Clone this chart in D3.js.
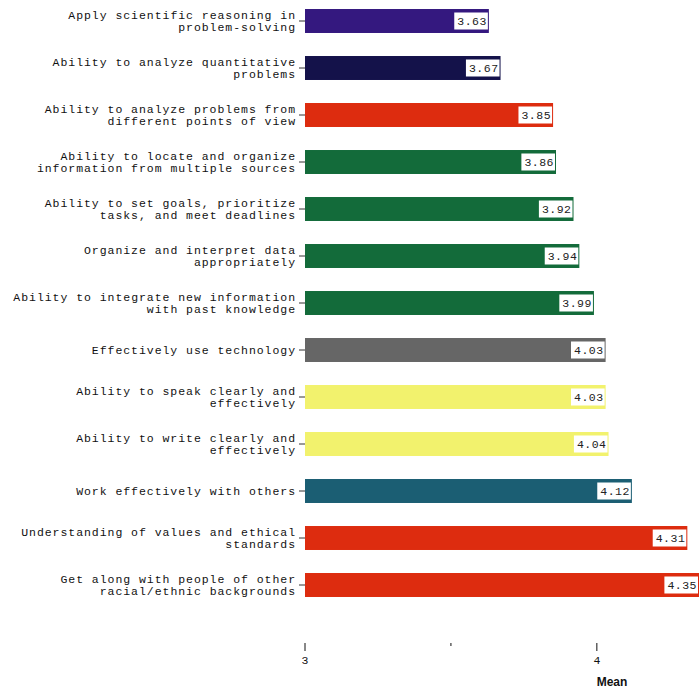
<!DOCTYPE html>
<html>
<head>
<meta charset="utf-8">
<script src="https://cdn.jsdelivr.net/npm/d3@7"></script>
<style>
  body { margin: 0; background: #fff; }
  svg { display: block; }
</style>
</head>
<body>
<svg id="chart" width="700" height="689"></svg>
<script>
const categories = [
  "Apply scientific reasoning in problem-solving",
  "Ability to analyze quantitative problems",
  "Ability to analyze problems from different points of view",
  "Ability to locate and organize information from multiple sources",
  "Ability to set goals, prioritize tasks, and meet deadlines",
  "Organize and interpret data appropriately",
  "Ability to integrate new information with past knowledge",
  "Effectively use technology",
  "Ability to speak clearly and effectively",
  "Ability to write clearly and effectively",
  "Work effectively with others",
  "Understanding of values and ethical standards",
  "Get along with people of other racial/ethnic backgrounds"
];
const values = [3.63, 3.67, 3.85, 3.86, 3.92, 3.94, 3.99, 4.03, 4.03, 4.04, 4.12, 4.31, 4.35];
const groups = ["science", "quant", "perspective", "info", "info", "info", "info",
                "tech", "communication", "communication", "teamwork", "perspective", "perspective"];
const groupNames = ["science", "quant", "perspective", "info", "tech", "communication", "teamwork"];
const groupColors = ["#34187f", "#14124a", "#dd2c0f", "#136b3a", "#666666", "#f2f26d", "#1b5e73"];
const xTicks = [3, 4];
const xMinorTicks = [3.5];
const xTitle = "Mean";

const svg = d3.select("#chart");
const mono = "'Courier New', 'Liberation Mono', monospace";

const x = d3.scaleLinear().domain([3, 4.35]).range([305, 699]);
const y = d3.scaleBand().domain(categories).range([-2.5, 608.5])
  .paddingInner(0.49).paddingOuter(0.245);
const color = d3.scaleOrdinal().domain(groupNames).range(groupColors);

// bars
svg.append("g").selectAll("rect").data(categories).join("rect")
  .attr("x", x(3))
  .attr("y", d => y(d))
  .attr("width", (d, i) => x(values[i]) - x(3))
  .attr("height", y.bandwidth())
  .attr("fill", (d, i) => color(groups[i]));

// y axis labels with wrapping
function wrap(s, max) {
  const words = s.split(" ");
  const lines = [];
  let cur = "";
  words.forEach(w => {
    if (cur === "") cur = w;
    else if ((cur + " " + w).length <= max) cur += " " + w;
    else { lines.push(cur); cur = w; }
  });
  if (cur) lines.push(cur);
  return lines;
}

const yAxis = svg.append("g").attr("class", "y-axis");
categories.forEach(c => {
  const cy = y(c) + y.bandwidth() / 2;
  yAxis.append("line")
    .attr("x1", x(3) - 6).attr("x2", x(3))
    .attr("y1", cy).attr("y2", cy)
    .attr("stroke", "#333").attr("stroke-width", 1);
  const lines = wrap(c, 36);
  const lh = 11.5;
  lines.forEach((ln, k) => {
    yAxis.append("text")
      .attr("text-anchor", "end")
      .attr("font-family", mono)
      .attr("font-size", 11.5)
      .attr("letter-spacing", 0.95)
      .attr("fill", "#111")
      .attr("x", x(3) - 9)
      .attr("y", cy + (k - (lines.length - 1) / 2) * lh)
      .attr("dy", "0.35em")
      .text(ln);
  });
});

// value labels
const vg = svg.append("g");
categories.forEach((c, i) => {
  const cy = y(c) + y.bandwidth() / 2;
  const xe = x(values[i]);
  const g = vg.append("g");
  const rect = g.append("rect").attr("fill", "#fff");
  const t = g.append("text")
    .attr("x", xe - 2)
    .attr("y", cy)
    .attr("dy", "0.35em")
    .attr("text-anchor", "end")
    .attr("font-family", mono)
    .attr("font-size", 11.5)
    .attr("letter-spacing", 0.5)
    .attr("fill", "#222")
    .text(values[i].toFixed(2));
  const w = t.node().getComputedTextLength();
  rect.attr("x", xe - 2 - w - 3).attr("y", cy - 8.5)
    .attr("width", w + 4).attr("height", 17);
});

// x axis
const xg = svg.append("g");
xTicks.forEach(v => {
  xg.append("line").attr("x1", x(v)).attr("x2", x(v))
    .attr("y1", 643).attr("y2", 651).attr("stroke", "#111");
  xg.append("text").attr("x", x(v)).attr("y", 664)
    .attr("text-anchor", "middle").attr("font-family", mono)
    .attr("font-size", 11.5).attr("fill", "#111").text(v);
});
xMinorTicks.forEach(v => {
  xg.append("line").attr("x1", x(v)).attr("x2", x(v))
    .attr("y1", 643).attr("y2", 646).attr("stroke", "#111");
});
xg.append("text").attr("x", 612).attr("y", 686)
  .attr("text-anchor", "middle")
  .attr("font-family", "'Liberation Sans', Arial, sans-serif")
  .attr("font-weight", "bold").attr("font-size", 12)
  .attr("fill", "#111").text(xTitle);
</script>
</body>
</html>
